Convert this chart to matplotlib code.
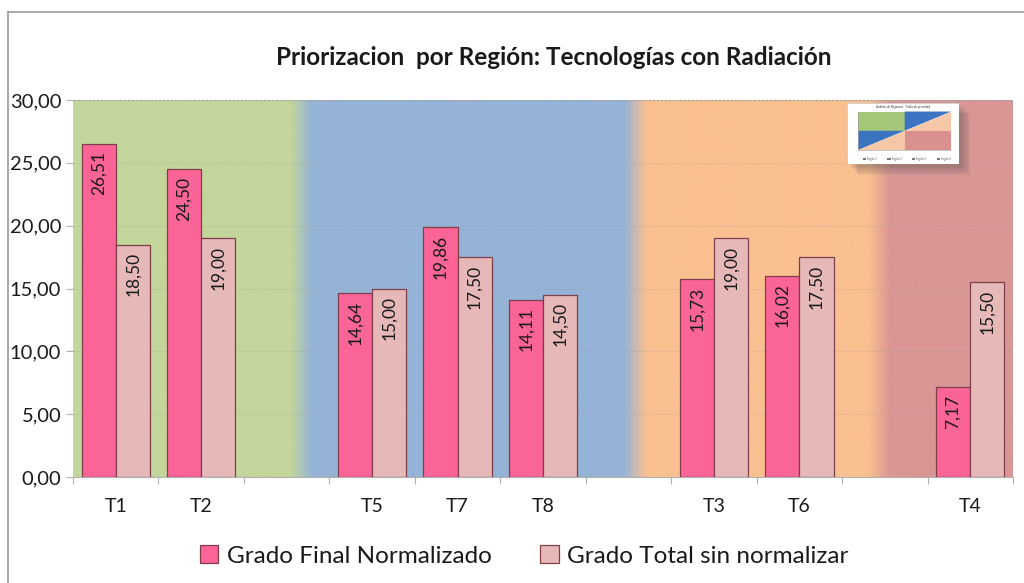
import matplotlib
matplotlib.use("Agg")
import matplotlib.pyplot as plt
import numpy as np
from matplotlib.colors import to_rgb
from matplotlib.patches import Rectangle, Polygon

plt.rcParams['font.family'] = ['Lato', 'DejaVu Sans']

# ---- data ----
categories = ["T1", "T2", "", "T5", "T7", "T8", "", "T3", "T6", "", "T4"]
grado_final = [26.51, 24.50, np.nan, 14.64, 19.86, 14.11, np.nan, 15.73, 16.02, np.nan, 7.17]
grado_total = [18.50, 19.00, np.nan, 15.00, 17.50, 14.50, np.nan, 19.00, 17.50, np.nan, 15.50]
series_names = ["Grado Final Normalizado", "Grado Total sin normalizar"]

# region bands behind the bars (green, blue, orange, red)
band_colors = ["#C3D69B", "#95B3D7", "#FAC090", "#D99694"]
band_edges = [2.17, 6.08, 8.94]
blend = 0.13

pink = "#FA6496"
rose = "#E6B9B8"
edge = "#7E3F4A"
text_col = "#1a1a1a"

fig = plt.figure(figsize=(10.24, 5.83), dpi=100)
ax = fig.add_axes([73 / 1024, 106 / 583, 940 / 1024, 377 / 583])

n = len(categories)
x = np.arange(n)

# gradient background
xs = np.linspace(-0.5, n - 0.5, 2000)
img = np.zeros((1, len(xs), 3))
cols = [np.array(to_rgb(c)) for c in band_colors]
for i, xv in enumerate(xs):
    c = cols[0]
    for k, e in enumerate(band_edges):
        t = np.clip((xv - (e - blend)) / (2 * blend), 0, 1)
        c = c * (1 - t) + cols[k + 1] * t if t > 0 else c
    img[0, i] = c
ax.imshow(img, extent=(-0.5, n - 0.5, 0, 30), aspect="auto", zorder=0)

for yv in range(5, 30, 5):
    ax.axhline(yv, color="#9a9a9a", lw=0.6, alpha=0.25, zorder=1)
ax.axhline(30, color="#a0a0a0", lw=0.8, ls=(0, (2, 1.5)), zorder=1)

w = 0.4
b1 = ax.bar(x - w / 2, grado_final, w, color=pink, edgecolor=edge, lw=0.9, zorder=3,
            label=series_names[0])
b2 = ax.bar(x + w / 2, grado_total, w, color=rose, edgecolor=edge, lw=0.9, zorder=3,
            label=series_names[1])

for bars, vals in ((b1, grado_final), (b2, grado_total)):
    for rect, v in zip(bars, vals):
        if np.isnan(v):
            continue
        ax.text(rect.get_x() + rect.get_width() / 2, v - 0.6, f"{v:.2f}".replace(".", ","),
                rotation=90, ha="center", va="top", fontsize=12.5, color=text_col, zorder=4)

ax.set_xlim(-0.5, n - 0.5)
ax.set_ylim(0, 30)
ax.set_xticks(x)
ax.set_xticklabels(categories)
ax.set_xticks(np.arange(-0.5, n, 1), minor=True)
ax.tick_params(axis="x", which="major", length=0, pad=15, labelsize=14, labelcolor=text_col)
ax.tick_params(axis="x", which="minor", length=5, color="#b0b0b0", width=0.8)
ax.set_yticks(np.arange(0, 31, 5))
ax.set_yticklabels([f"{v:.2f}".replace(".", ",") for v in np.arange(0, 31, 5)])
ax.tick_params(axis="y", length=5, color="#b0b0b0", width=0.8, labelsize=14.5, labelcolor=text_col)
for s in ("top", "right", "left"):
    ax.spines[s].set_visible(False)
ax.spines["bottom"].set_color("#b0b0b0")
ax.spines["bottom"].set_linewidth(0.8)

fig.text(0.541, 0.902, "Priorizacion  por Región: Tecnologías con Radiación",
         ha="center", va="center", fontsize=17.5, fontweight="bold", color=text_col)

leg = fig.legend(handles=[b1, b2], loc="center", bbox_to_anchor=(0.512, 0.046), ncol=2,
                 frameon=False, fontsize=17.5, handlelength=0.75, handleheight=0.75,
                 columnspacing=2.0, handletextpad=0.35)
for t in leg.get_texts():
    t.set_color(text_col)

# outer frame
fig.add_artist(plt.Line2D([8 / 1024, 8 / 1024], [0, 1 - 12 / 583], color="#9a9a9a", lw=1.2))
fig.add_artist(plt.Line2D([8 / 1024, 1], [1 - 12 / 583, 1 - 12 / 583], color="#9a9a9a", lw=1.2))

# small thumbnail of the quadrant chart, with a soft drop shadow
tx0, ty0, tw, th = 847 / 1024, 1 - 164 / 583, 112 / 1024, 61 / 583
for k in range(8):
    off = (3 + k * 1.2) / 1024
    fig.add_artist(Rectangle((tx0 + off, ty0 - off * 1.7), tw, th, transform=fig.transFigure,
                             color="#555555", alpha=0.06, lw=0, zorder=5))
ins = fig.add_axes([tx0, ty0, tw, th], zorder=6)
ins.set_xlim(0, 1)
ins.set_ylim(0, 1)
ins.axis("off")
ins.add_patch(Rectangle((0, 0), 1, 1, color="white", zorder=0))
ins.add_patch(Rectangle((0, 0), 1, 1, fill=False, ec="#c8c8c8", lw=0.6, zorder=5))
px0, px1, py0, py1 = 0.1, 0.93, 0.23, 0.86
pm, pym = (px0 + px1) / 2, (py0 + py1) / 2
ins.add_patch(Rectangle((px0, pym), pm - px0, py1 - pym, color="#A5C77A", lw=0))
ins.add_patch(Rectangle((pm, py0), px1 - pm, pym - py0, color="#D9908E", lw=0))
ins.add_patch(Polygon([(px0, py0), (pm, pym), (px0, pym)], color="#3B74C0", lw=0))
ins.add_patch(Polygon([(px0, py0), (pm, py0), (pm, pym)], color="#F6C7A6", lw=0))
ins.add_patch(Polygon([(pm, pym), (px1, py1), (pm, py1)], color="#3B74C0", lw=0))
ins.add_patch(Polygon([(pm, pym), (px1, pym), (px1, py1)], color="#F6C7A6", lw=0))
ins.plot([px0, px0, px1], [py1, py0, py0], color="#999999", lw=0.4)
ins.text(0.5, 0.94, "Análisis de Regiones - Tabla de prioridad", ha="center", va="center",
         fontsize=2.2, color="#333333")
for i, lx in enumerate([0.14, 0.36, 0.58, 0.8]):
    ins.add_patch(Rectangle((lx, 0.06), 0.03, 0.04, color="#777777", lw=0))
    ins.text(lx + 0.04, 0.08, f"Región {i + 1}", fontsize=1.8, va="center", color="#555555")

fig.savefig("out.png", dpi=100)
